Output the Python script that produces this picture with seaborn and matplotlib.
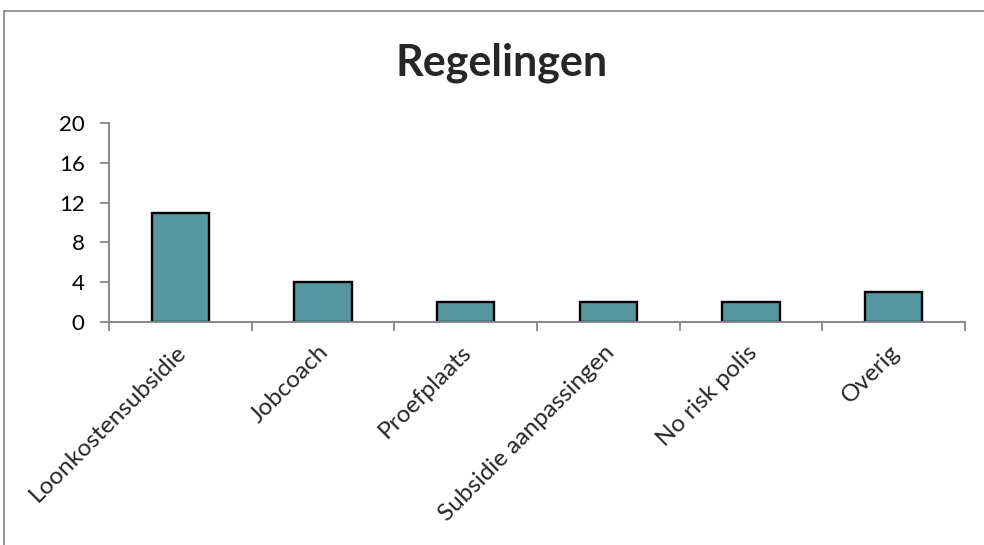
import matplotlib
matplotlib.use("Agg")
import matplotlib.pyplot as plt
import matplotlib.transforms as mtransforms
import seaborn as sns
import pandas as pd
import numpy as np
from matplotlib.lines import Line2D

categories = ["Loonkostensubsidie", "Jobcoach", "Proefplaats",
              "Subsidie aanpassingen", "No risk polis", "Overig"]
values = [11, 4, 2, 2, 2, 3]
y_ticks = [0, 4, 8, 12, 16, 20]

sns.set_theme(style="white")
plt.rcParams["font.family"] = ["Lato", "DejaVu Sans"]

W, H = 984, 545
fig = plt.figure(figsize=(W / 100, H / 100), dpi=100)

# chart frame: top and left edges
frame_col = "#8c8c8c"
fig.lines.append(Line2D([3.5 / W, 1.0], [1 - 10.5 / H, 1 - 10.5 / H], transform=fig.transFigure,
                        color=frame_col, linewidth=1.3))
fig.lines.append(Line2D([3.5 / W, 3.5 / W], [0, 1 - 10.5 / H], transform=fig.transFigure,
                        color=frame_col, linewidth=1.3))

ax = fig.add_axes([109 / W, 1 - 322 / H, (965 - 109) / W, (322 - 123) / H])
df = pd.DataFrame({"cat": categories, "val": values})
sns.barplot(data=df, x="cat", y="val", ax=ax, color="#5596a0", saturation=1,
            width=0.4, edgecolor="black", linewidth=1.7)

ax.set_xlim(-0.5, len(categories) - 0.5)
ax.set_ylim(0, 20)
ax.set_yticks(y_ticks)
ax.set_xlabel("")
ax.set_ylabel("")

axis_col = "#868686"
for s in ["top", "right"]:
    ax.spines[s].set_visible(False)
for s in ["left", "bottom"]:
    ax.spines[s].set_color(axis_col)
    ax.spines[s].set_linewidth(1.4)

ax.tick_params(axis="y", direction="out", length=6.5, width=1.3, color=axis_col,
               labelsize=16, labelcolor="black", pad=11, left=True)

# category boundaries carry the tick marks, centres carry the labels
ax.set_xticks(np.arange(-0.5, len(categories), 1.0))
ax.set_xticklabels([])
ax.set_xticks(np.arange(len(categories)), minor=True)
ax.set_xticklabels(categories, minor=True, rotation=45, ha="right",
                   rotation_mode="anchor", fontsize=17.5)
ax.tick_params(axis="x", which="major", direction="out", length=6.5, width=1.3,
               color=axis_col, bottom=True)
ax.tick_params(axis="x", which="minor", length=0, pad=14)
for lab in ax.get_xticklabels(minor=True):
    lab.set_transform(lab.get_transform() + mtransforms.ScaledTranslation(-0.05, 0, fig.dpi_scale_trans))

fig.text(502 / W, 1 - 75 / H, "Regelingen", ha="center", va="baseline",
         fontsize=31, fontweight="bold")

fig.savefig("out.png", dpi=100)
